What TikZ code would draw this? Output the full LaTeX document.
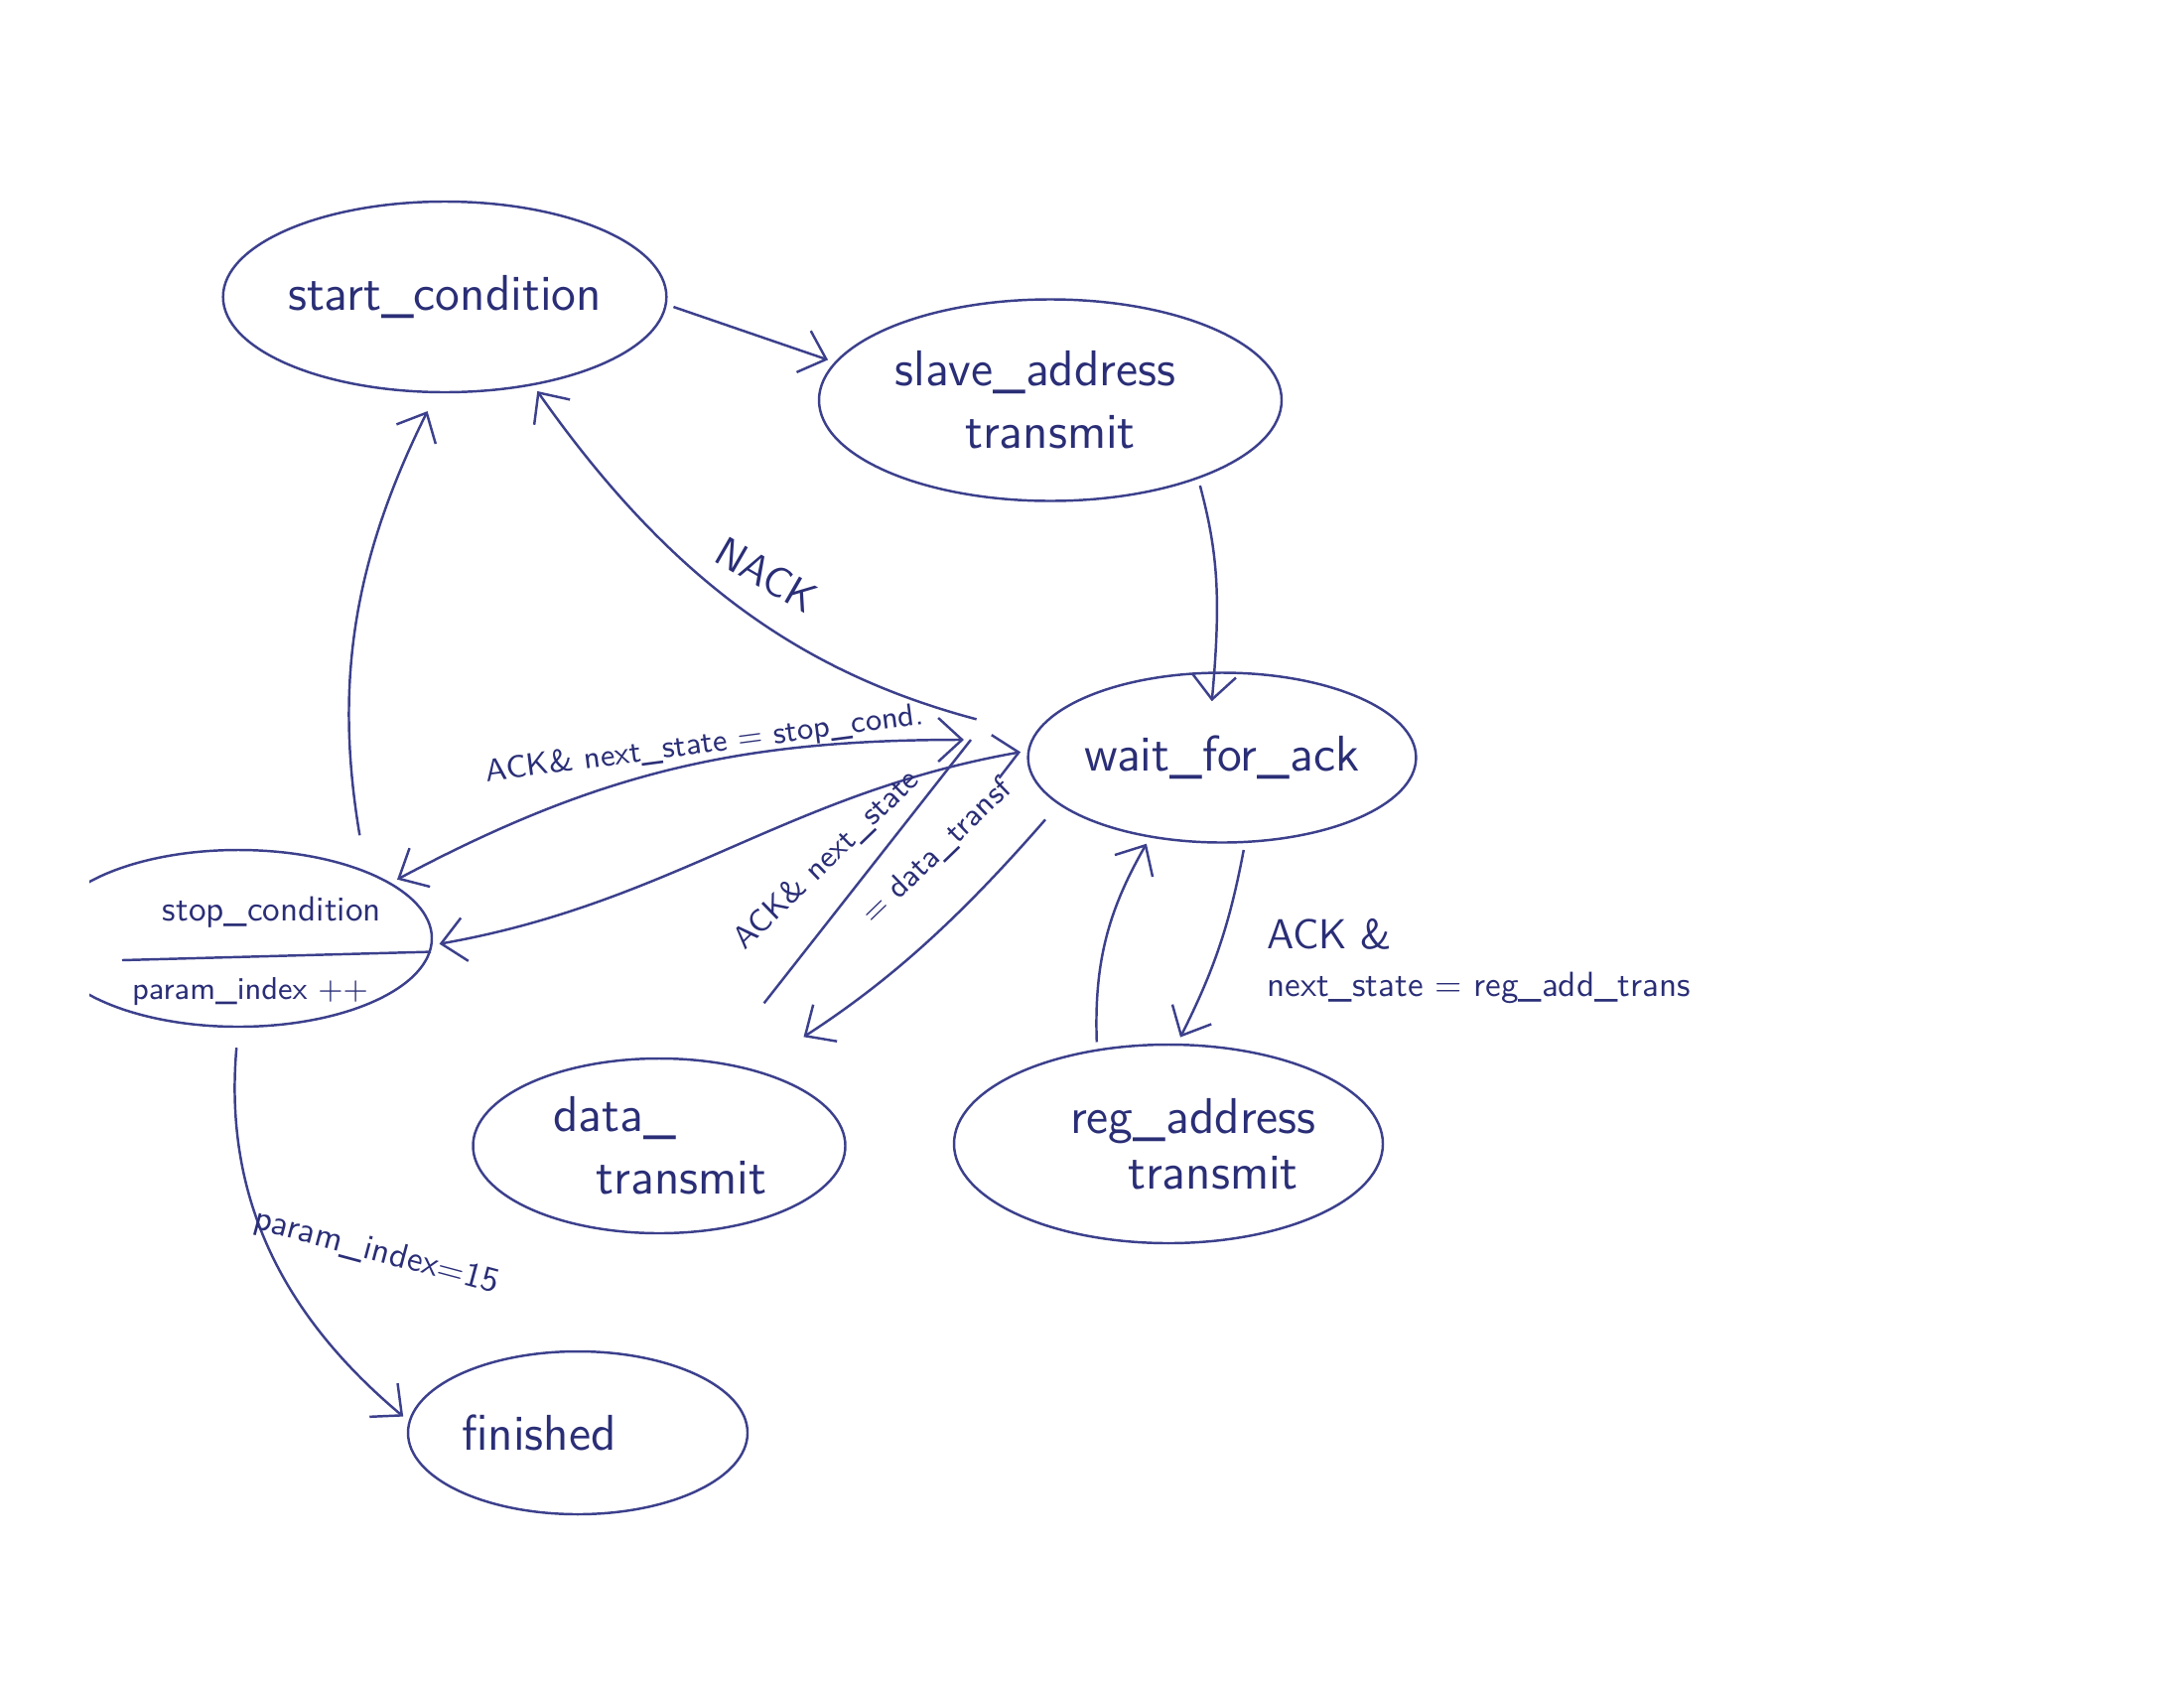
\documentclass[tikz,border=0pt]{standalone}
\usetikzlibrary{arrows.meta,shapes.geometric}
\definecolor{pen}{RGB}{60,64,140}
\definecolor{ink}{RGB}{42,46,118}
\begin{document}
\begin{tikzpicture}[
		>={Straight Barb[length=2.4mm,width=4.4mm]},
		inkline/.style={draw=pen, line width=0.7pt},
		state/.style={inkline, ellipse, inner sep=0pt, text=ink, font=\Large\sffamily, align=center},
		arr/.style={inkline, ->, shorten <=2pt, shorten >=2pt},
		twoway/.style={inkline, <->, shorten <=2pt, shorten >=2pt},
		lbl/.style={text=ink, font=\sffamily, inner sep=1pt}]
		\useasboundingbox (0,0) rectangle (22,-17);

		\node[state, minimum width=4.18cm, minimum height=1.92cm] (start) at (4.48,-2.99) {start\_condition};
		\node[state, minimum width=4.66cm, minimum height=2.03cm] (slave) at (10.58,-4.03) {slave\_address\hspace*{0.3cm}\\transmit};
		\node[state, minimum width=3.64cm, minimum height=1.71cm] (wait) at (12.31,-7.63) {wait\_for\_ack};
		\begin{scope}
			\clip (0.9,-8) rectangle (5,-11);
			\node[state, minimum width=3.9cm, minimum height=1.78cm] (stop) at (2.40,-9.45) {};
		\end{scope}
		\node[lbl, font=\normalsize\sffamily] (stoptxt) at (2.74,-9.19) {stop\_condition};
		\node[lbl, font=\small\sffamily] (stopidx) at (2.52,-9.99) {param\_index ++};
		\draw[inkline] (1.23,-9.67) -- (stop.-4);
		\node[state, minimum width=3.75cm, minimum height=1.76cm] (data) at (6.64,-11.54) {data\_\hspace*{0.9cm}\\\hspace*{0.45cm}transmit};
		\node[state, minimum width=4.32cm, minimum height=2.0cm] (reg) at (11.77,-11.52) {\hspace*{0.5cm}reg\_address\\[-2pt]\hspace*{0.9cm}transmit};
		\node[state, minimum width=3.42cm, minimum height=1.64cm] (fin) at (5.82,-14.43) {finished\hspace*{0.78cm}};
		\coordinate (jn) at (9.78,-7.45);

		\draw[arr] (start.-2) -- (slave.170);
		\draw[arr, shorten >=-0.3cm] (slave.-28) to[bend left=10] (wait.95);
		\draw[arr, shorten <=0.6cm] (wait.173) to[bend left=20] (start.-45);
		\node[lbl, font=\large\sffamily, rotate=-30] (nack) at (7.72,-5.79) {NACK};
		\draw[twoway] (stop.20) to[out=28,in=180] (jn);
		\node[lbl, font=\small\sffamily, rotate=7.5] (ackstop) at (7.10,-7.50) {ACK\& next\_state = stop\_cond.};
		\draw[twoway] (stop.-2) to[out=10,in=190] (wait.178);
		\draw[inkline, shorten <=0.75cm] (data.55) -- (jn);
		\draw[arr, shorten <=0.2cm, shorten >=0.6cm] (wait.-164) to[bend left=8] (data.39);
		\node[lbl, font=\small\sffamily, rotate=44] (ackdata) at (8.33,-8.66) {ACK\& next\_state};
		\node[lbl, font=\small\sffamily, rotate=44] (eqdata) at (9.44,-8.58) {= data\_transf};
		\draw[arr] (wait.-75) to[bend left=8] (reg.85);
		\node[lbl, font=\large\sffamily, anchor=west] (ackreg) at (12.72,-9.41) {ACK \&};
		\node[lbl, anchor=west] (nsreg) at (12.72,-9.95) {next\_state = reg\_add\_trans};
		\draw[arr] (reg.127) to[out=92,in=240] (wait.-132);
		\draw[arr, shorten <=0.36cm, shorten >=0.2cm] (stop.28) to[bend left=18] (start.-95);
		\draw[arr, shorten <=0.2cm] (stop.-90) to[out=-95,in=140] (fin.176);
		\node[lbl, rotate=-15] (param) at (3.79,-12.61) {param\_index=15};
\end{tikzpicture}
\end{document}
